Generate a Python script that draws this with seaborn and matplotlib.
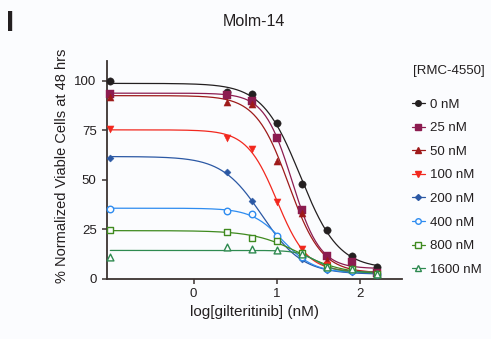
import numpy as np
import pandas as pd
import matplotlib
matplotlib.use("Agg")
import matplotlib.pyplot as plt
from matplotlib.lines import Line2D
import seaborn as sns

# ---- data ----
log_conc = [-1.0, 0.4, 0.7, 1.0, 1.3, 1.6, 1.9, 2.2]
rmc_labels = ["0 nM", "25 nM", "50 nM", "100 nM", "200 nM", "400 nM", "800 nM", "1600 nM"]
v0 = [99.7, 94.3, 93.1, 78.5, 48.0, 24.6, 11.5, 5.9]
v25 = [93.4, 92.6, 89.7, 71.1, 34.5, 11.5, 8.6, 3.0]
v50 = [91.6, 89.1, 88.1, 59.4, 33.0, 9.5, 5.5, 2.8]
v100 = [75.6, 71.2, 65.3, 38.6, 15.2, 6.8, 4.0, 2.5]
v200 = [61.1, 53.7, 39.2, 20.9, 10.2, 4.2, 3.4, 1.9]
v400 = [35.4, 34.2, 32.8, 21.4, 11.0, 4.8, 3.8, 2.2]
v800 = [24.7, 23.6, 20.4, 19.0, 12.8, 6.0, 5.0, 2.5]
v1600 = [11.1, 16.0, 15.2, 14.6, 12.4, 6.0, 4.8, 2.4]
series = [v0, v25, v50, v100, v200, v400, v800, v1600]
x_ticks = [0, 1, 2]
y_ticks = [0, 25, 50, 75, 100]

colors = ["#231f20", "#8c1c50", "#9e1a1a", "#f2281e", "#2b58a4", "#2e8cf0", "#3f8a1f", "#2e8a50"]
markers = ["o", "s", "^", "v", "D", "o", "s", "^"]
filled = [True, True, True, True, True, False, False, False]
msize = [28, 32, 26, 26, 13, 22, 22, 24]
leg_ms = [4.0, 4.8, 4.4, 4.4, 3.0, 4.0, 4.0, 4.4]

BG = "#fbfcfe"
INK = "#231f20"


def fit4pl(x, y):
    x = np.asarray(x, float)
    y = np.asarray(y, float)
    best = None
    for ic in np.linspace(0.0, 2.2, 221):
        for h in np.linspace(0.5, 5.0, 46):
            g = 1.0 / (1.0 + 10 ** (h * (x - ic)))
            A = np.column_stack([np.ones_like(g), g])
            coef = np.linalg.lstsq(A, y, rcond=None)[0]
            sse = float(np.sum((A @ coef - y) ** 2))
            if best is None or sse < best[0]:
                best = (sse, ic, h, coef)
    return best[1:]


sns.set_theme(style="ticks")
plt.rcParams["font.family"] = ["Liberation Sans", "DejaVu Sans"]
plt.rcParams["text.color"] = INK

fig = plt.figure(figsize=(4.91, 3.39), dpi=100, facecolor=BG)
ax = fig.add_axes([107 / 491, 1 - 278.7 / 339, (402 - 107) / 491, (278.7 - 61) / 339])
ax.set_facecolor(BG)

xs = np.linspace(log_conc[0], log_conc[-1], 300)
for i, vals in enumerate(series):
    ic, h, coef = fit4pl(log_conc, vals)
    ys = coef[0] + coef[1] / (1.0 + 10 ** (h * (xs - ic)))
    sns.lineplot(x=xs, y=ys, color=colors[i], lw=0.9, ax=ax, zorder=2 + i * 0.01)
for i, vals in enumerate(series):
    df = pd.DataFrame({"x": log_conc, "y": vals})
    sns.scatterplot(data=df, x="x", y="y", marker=markers[i], s=msize[i],
                    color=colors[i] if filled[i] else BG,
                    edgecolor=colors[i], linewidth=1.0 if not filled[i] else 0.3,
                    ax=ax, zorder=4 + i * 0.01, clip_on=False)

ax.set_xlim(-1.04, 2.5)
ax.set_ylim(0, 110)
ax.set_xticks(x_ticks)
ax.set_yticks(y_ticks)
ax.set_xlabel("")
ax.set_ylabel("")
for s in ["top", "right"]:
    ax.spines[s].set_visible(False)
for s in ["left", "bottom"]:
    ax.spines[s].set_color("#3b3331")
    ax.spines[s].set_linewidth(1.3)
ax.tick_params(axis="both", direction="out", length=3.5, width=1.1, color="#3b3331",
               labelsize=9.5, labelcolor=INK)
ax.tick_params(axis="y", pad=4)
ax.tick_params(axis="x", pad=3)

fig.text(254 / 491, 1 - 22 / 339, "Molm-14", ha="center", va="center", fontsize=11.5, color=INK)
fig.text(10 / 491, 1 - 23 / 339, "I", ha="center", va="center", fontsize=21, fontweight="bold", color=INK)
fig.text(62.5 / 491, 1 - 166 / 339, "% Normalized Viable Cells at 48 hrs", rotation=90,
         ha="center", va="center", fontsize=10.5, color=INK)
fig.text(254.3 / 491, 1 - 311.7 / 339, "log[gilteritinib] (nM)", ha="center", va="center",
         fontsize=11, color=INK)
fig.text(413 / 491, 1 - 71 / 339, "[RMC-4550]", ha="left", va="center", fontsize=9.5, color=INK)

handles = []
for i in range(len(series)):
    handles.append(Line2D([0], [0], color=colors[i], lw=0.9, marker=markers[i], markersize=leg_ms[i],
                          markerfacecolor=colors[i] if filled[i] else BG,
                          markeredgecolor=colors[i], markeredgewidth=1.0))
leg = fig.legend(handles, rmc_labels, loc="upper left", bbox_to_anchor=(412 / 491, 1 - 98.5 / 339),
                 frameon=False, fontsize=9.5, borderaxespad=0,
                 borderpad=0, handlelength=0.95, handletextpad=0.4, labelspacing=0.86)
for t in leg.get_texts():
    t.set_color(INK)

fig.savefig("out.png", dpi=100, facecolor=BG)
